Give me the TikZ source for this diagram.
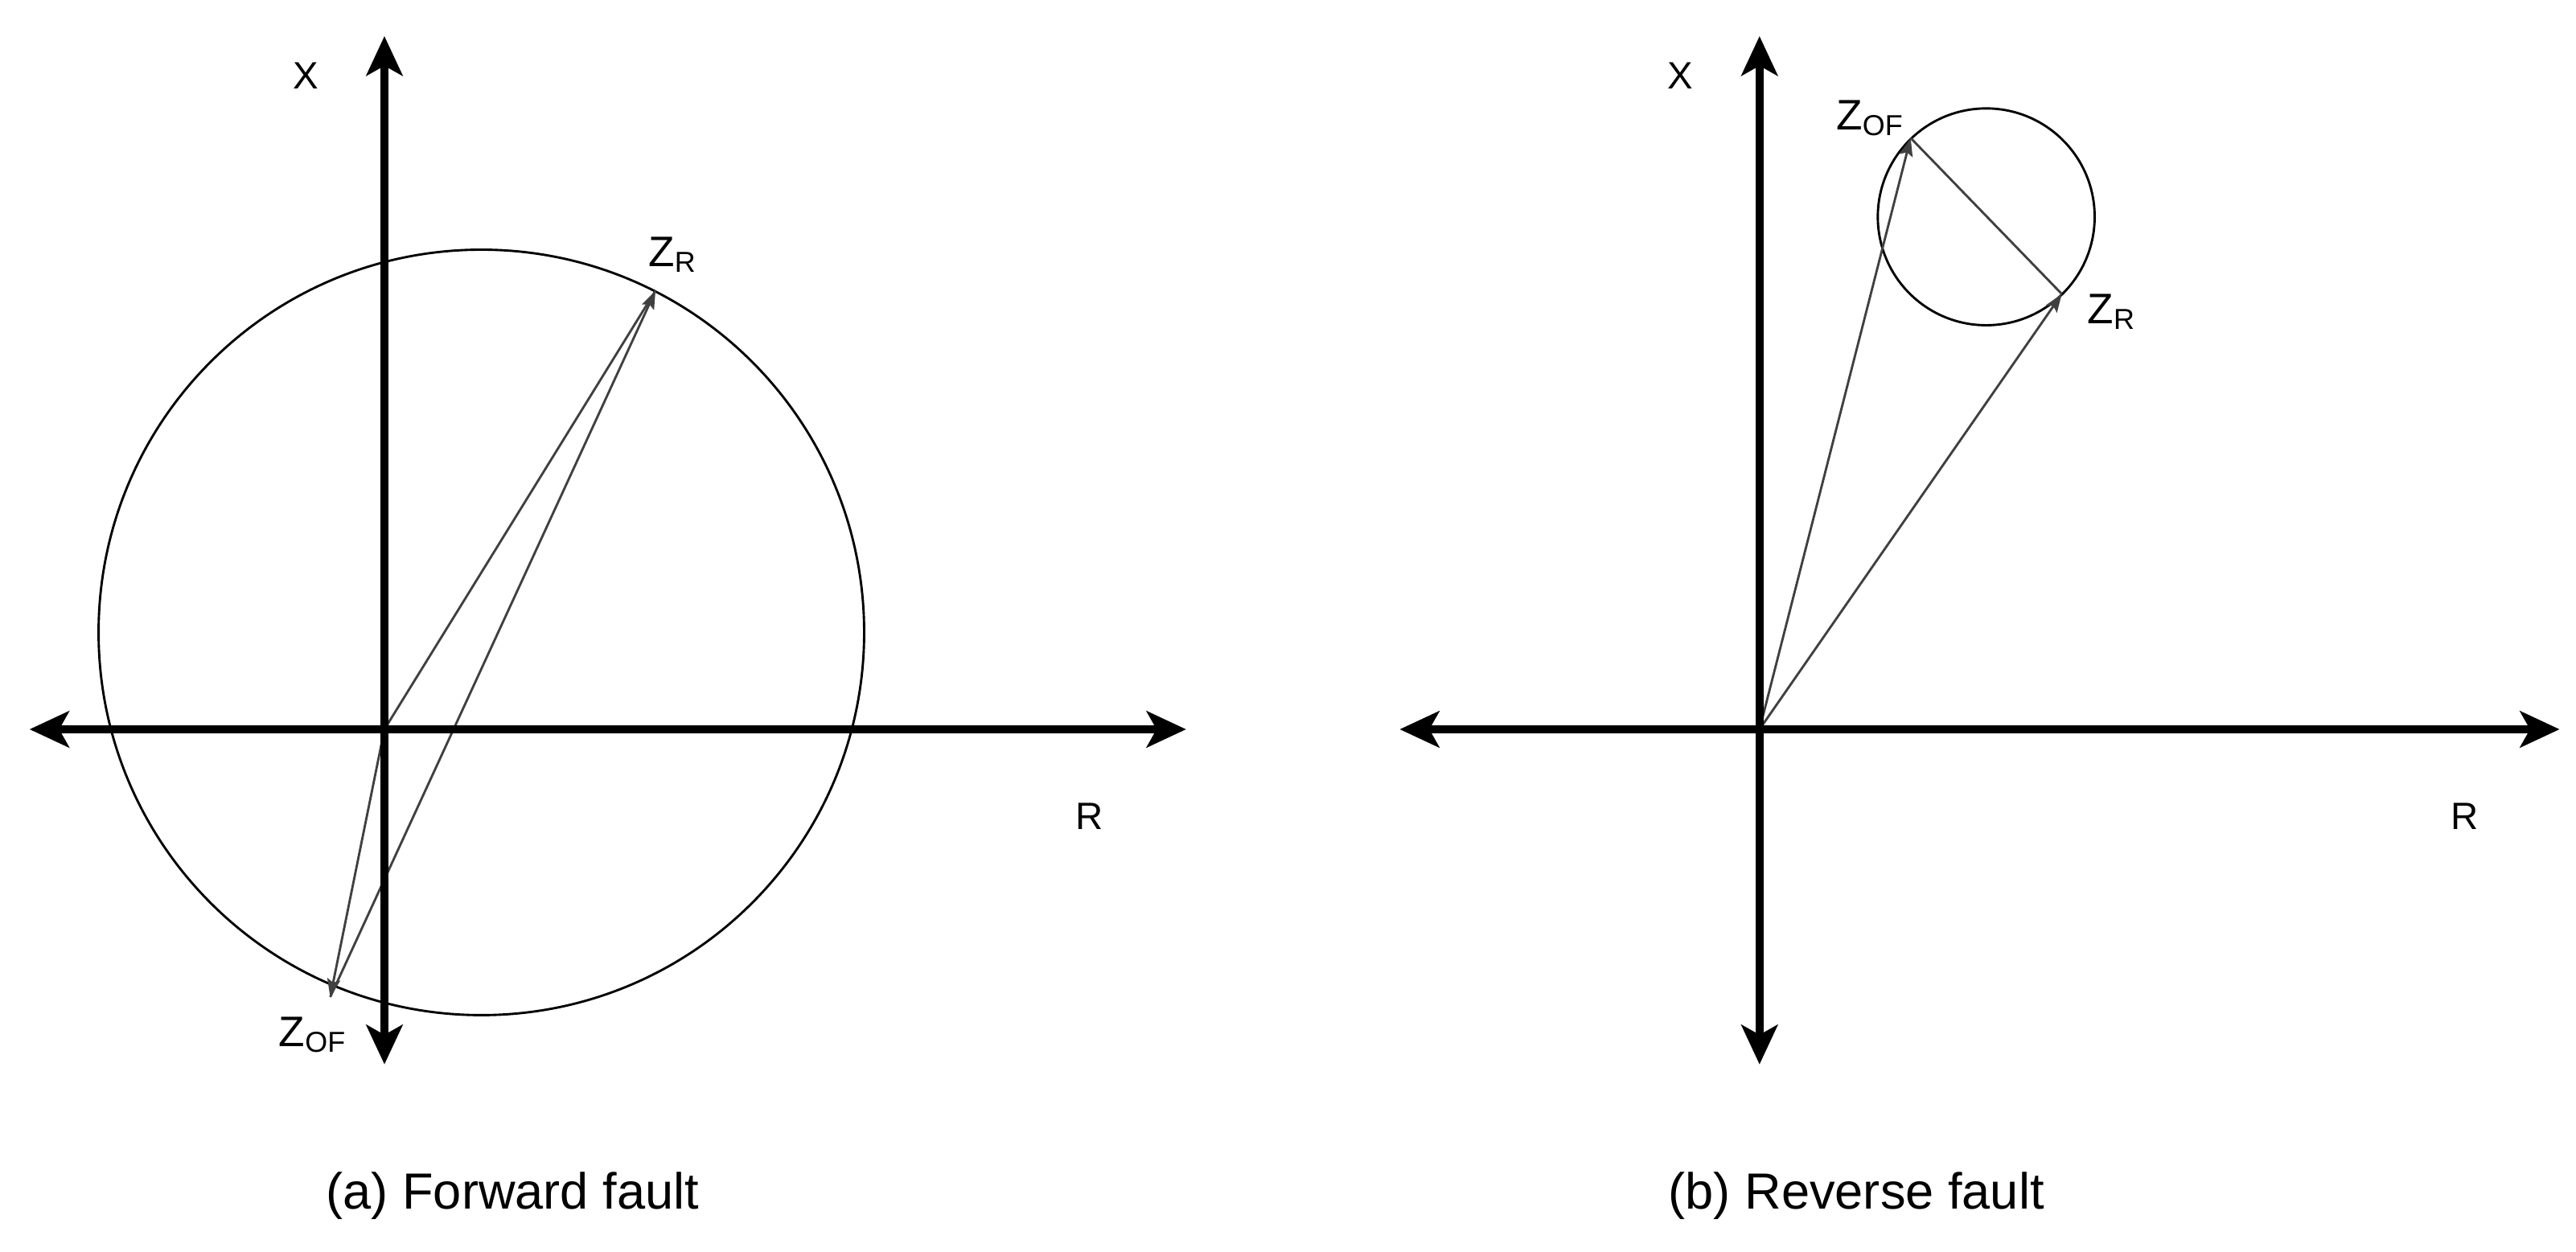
\documentclass[tikz,border=0pt]{standalone}
\usepackage{fontspec}
\setmainfont{Liberation Sans}
\usetikzlibrary{arrows.meta}
\begin{document}
\begin{tikzpicture}[x=1mm,y=-1mm,
  axisln/.style={line width=14pt,{Stealth[length=2.4cm,width=2.2cm,inset=0.6cm]}-{Stealth[length=2.4cm,width=2.2cm,inset=0.6cm]}},
  vecln/.style={line width=4pt,draw=black!75,-{Stealth[length=1.1cm,width=0.8cm,inset=0.2cm]}},
  plainln/.style={line width=4pt,draw=black!75},
  circln/.style={line width=4pt},
  lab/.style={inner sep=0pt,font=\fontsize{66}{70}\selectfont},
  zlab/.style={inner sep=0pt,font=\fontsize{74}{80}\selectfont},
  captxt/.style={inner sep=0pt,font=\fontsize{88}{96}\selectfont}]
\useasboundingbox (0,0) rectangle (1568,762);
\newcommand{\zsub}[1]{Z\raisebox{-0.25ex}{\fontsize{50}{50}\selectfont #1}}
% panel a
\coordinate (oa) at (234,444);
\coordinate (ayt) at (234,22); \coordinate (ayb) at (234,648);
\coordinate (axl) at (18,444); \coordinate (axr) at (722,444);
\draw[circln] (293,385) circle (233);
\coordinate (zra) at (399,177); \coordinate (zoa) at (201,607);
\draw[plainln] (oa) -- (zra);
\draw[vecln] (zoa) -- (zra);
\draw[vecln] (oa) -- (zoa);
\draw[axisln] (axl) -- (axr);
\draw[axisln] (ayb) -- (ayt);
\node[lab] (xa) at (186,46) {X};
\node[lab] (ra) at (663,497) {R};
\node[zlab] (lzra) at (409,155) {\zsub{R}};
\node[zlab] (lzoa) at (190,630) {\zsub{OF}};
\node[captxt] (ca) at (312,728) {(a) Forward fault};
% panel b
\coordinate (ob) at (1071,444);
\coordinate (byt) at (1071,22); \coordinate (byb) at (1071,648);
\coordinate (bxl) at (852,444); \coordinate (bxr) at (1558,444);
\draw[circln] (1209,132) circle (66);
\coordinate (zrb) at (1255,179); \coordinate (zob) at (1163,84);
\draw[plainln] (zob) -- (zrb);
\draw[vecln] (ob) -- (zob);
\draw[vecln] (ob) -- (zrb);
\draw[axisln] (bxl) -- (bxr);
\draw[axisln] (byb) -- (byt);
\node[lab] (xb) at (1023,46) {X};
\node[lab] (rb) at (1500,497) {R};
\node[zlab] (lzob) at (1138,72) {\zsub{OF}};
\node[zlab] (lzrb) at (1285,190) {\zsub{R}};
\node[captxt] (cb) at (1130,728) {(b) Reverse fault};
\end{tikzpicture}
\end{document}
